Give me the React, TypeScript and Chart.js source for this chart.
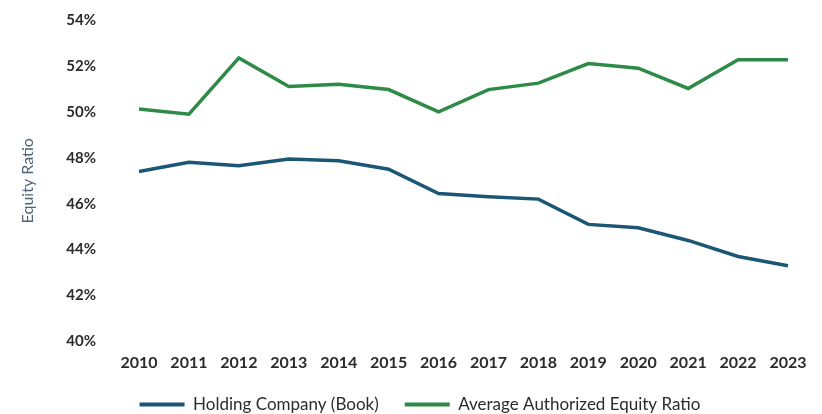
import React, { useEffect, useRef } from "react";
import { Chart, registerables } from "chart.js";

Chart.register(...registerables);

const years = ["2010", "2011", "2012", "2013", "2014", "2015", "2016", "2017", "2018", "2019", "2020", "2021", "2022", "2023"];
const holdingCompanyBook = [47.4, 47.8, 47.65, 47.95, 47.87, 47.5, 46.44, 46.3, 46.2, 45.1, 44.95, 44.4, 43.7, 43.3];
const avgAuthorizedEquity = [50.12, 49.9, 52.35, 51.1, 51.2, 50.97, 50.0, 50.97, 51.25, 52.1, 51.9, 51.02, 52.27, 52.27];
const yTickMin = 40;
const yTickMax = 54;
const yTickStep = 2;

const BLUE = "#1b5674";
const GREEN = "#2f8a48";
const TEXT = "#2b2b2b";

export default function App() {
  const ref = useRef<HTMLCanvasElement | null>(null);
  useEffect(() => {
    document.body.style.margin = "0";
    const canvas = ref.current;
    if (!canvas) return;
    const chart = new Chart(canvas, {
      type: "line",
      data: {
        labels: years,
        datasets: [
          {
            label: "Holding Company (Book)",
            data: holdingCompanyBook,
            borderColor: BLUE,
            backgroundColor: BLUE,
            borderWidth: 3.5,
            pointRadius: 0,
            tension: 0,
            yAxisID: "y",
          },
          {
            label: "Average Authorized Equity Ratio",
            data: avgAuthorizedEquity,
            borderColor: GREEN,
            backgroundColor: GREEN,
            borderWidth: 3.5,
            pointRadius: 0,
            tension: 0,
            yAxisID: "y",
          },
        ],
      },
      options: {
        animation: false,
        responsive: false,
        maintainAspectRatio: false,
        layout: { padding: { top: 20, right: 0, left: 18, bottom: -9 } },
        plugins: {
          tooltip: { enabled: false },
          legend: {
            position: "bottom",
            labels: {
              boxWidth: 45,
              boxHeight: 4,
              padding: 26,
              color: TEXT,
              font: { family: "Lato", size: 17 },
              generateLabels: (c: any) =>
                c.data.datasets.map((ds: any, i: number) => ({
                  text: ds.label,
                  fillStyle: ds.borderColor,
                  strokeStyle: ds.borderColor,
                  lineWidth: 0,
                  hidden: false,
                  datasetIndex: i,
                  fontColor: TEXT,
                })),
            },
          },
        },
        scales: {
          x: {
            offset: false,
            grid: { display: false, drawTicks: false },
            border: { display: false },
            ticks: {
              color: TEXT,
              padding: 12,
              maxRotation: 0,
              autoSkip: false,
              font: { family: "Lato", size: 16, weight: "bold" },
            },
            afterFit: (scale: any) => {
              scale.height = 28.5;
            },
          },
          y: {
            min: yTickMin,
            max: yTickMax,
            grid: {
              display: true,
              drawOnChartArea: false,
              drawTicks: true,
              tickLength: 40,
              color: "rgba(0,0,0,0)",
            },
            border: { display: false },
            ticks: {
              stepSize: yTickStep,
              color: TEXT,
              padding: 3,
              font: { family: "Lato", size: 15, weight: "bold" },
              callback: (v: any) => `${v}%`,
            },
            title: {
              display: true,
              text: "Equity Ratio",
              color: "#4f6378",
              font: { family: "Lato", size: 16 },
              padding: { top: 0, bottom: 0 },
            },
            afterFit: (scale: any) => {
              scale.width = 121;
            },
          },
          yRightSpace: {
            type: "linear",
            position: "right",
            display: true,
            grid: { display: false, drawTicks: false },
            border: { display: false },
            ticks: { display: false },
            afterFit: (scale: any) => {
              scale.width = 34;
            },
          },
        },
      },
    });
    return () => chart.destroy();
  }, []);
  return (
    <div style={{ width: 822, height: 414, background: "#fff" }}>
      <canvas ref={ref} width={822} height={414} style={{ display: "block" }} />
    </div>
  );
}
